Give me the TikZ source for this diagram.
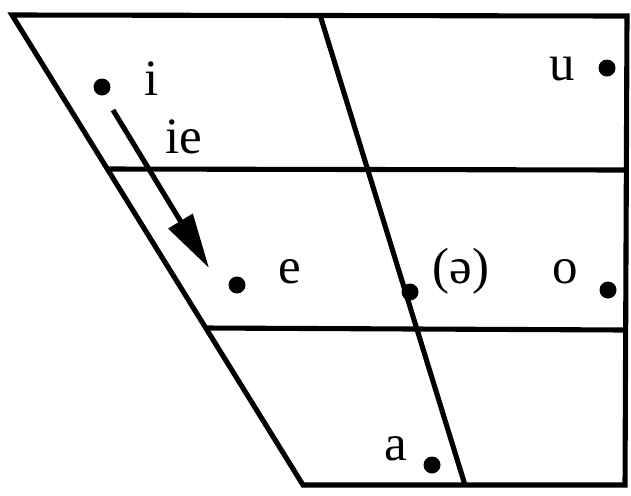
\documentclass[tikz,border=0pt]{standalone}
\usepackage{fontspec}
\setmainfont{Liberation Serif}
\usetikzlibrary{arrows.meta}

\begin{document}
\begin{tikzpicture}[x=0.02cm,y=-0.02cm,
    frame/.style={line width=2.9pt,line join=miter},
    vowel/.style={circle,fill=black,inner sep=0pt,minimum size=0.34cm},
    sym/.style={anchor=base,inner sep=0pt,font=\fontsize{29}{29}\selectfont}]
  \useasboundingbox (0,0) rectangle (631,495);
  % chart outline
  \coordinate (tl) at (12,15);
  \coordinate (tr) at (627,16);
  \coordinate (br) at (625,485);
  \coordinate (bl) at (303,485);
  \coordinate (mt) at (320,15);
  \coordinate (mb) at (465,485);
  \coordinate (hal) at (107,169);
  \coordinate (har) at (627,170);
  \coordinate (hbl) at (206,328);
  \coordinate (hbr) at (626,330);
  \draw[frame] (tl) -- (tr) -- (br) -- (bl) -- cycle;
  \draw[frame] (mt) -- (mb);
  \draw[frame] (hal) -- (har);
  \draw[frame] (hbl) -- (hbr);

  % vowels
  \node[vowel] (i) at (102,87) {};
  \node[vowel] (u) at (607,68) {};
  \node[vowel] (e) at (237,285) {};
  \node[vowel] (schwa) at (410,292) {};
  \node[vowel] (o) at (608,290) {};
  \node[vowel] (a) at (432,465) {};

  \node[sym] (i-lbl) at (152,95) {i};
  \node[sym] (u-lbl) at (562,80) {u};
  \node[sym] (e-lbl) at (290,283) {e};
  \node[sym] (schwa-lbl) at (461,283) {(ə)};
  \node[sym] (o-lbl) at (565,283) {o};
  \node[sym] (a-lbl) at (396,460) {a};

  % diphthong glide
  \coordinate (ie-from) at (113,110);
  \coordinate (ie-to) at (209,268);
  \draw[frame,-{Triangle[length=1.1cm,width=0.55cm]}] (ie-from) -- (ie-to);
  \node[sym] (ie-lbl) at (184,153) {ie};
\end{tikzpicture}
\end{document}
